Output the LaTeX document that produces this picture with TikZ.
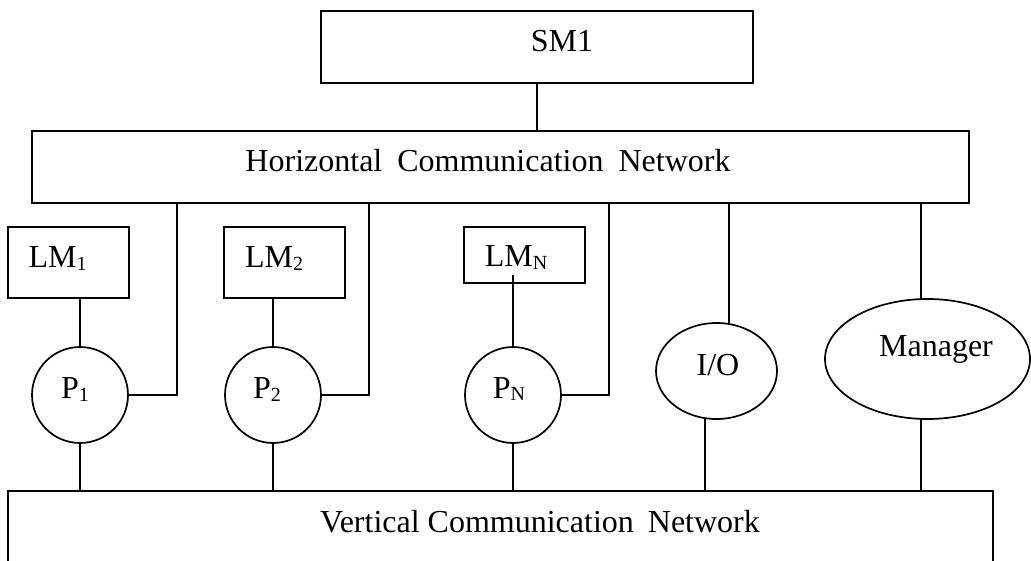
\documentclass[tikz,border=0pt]{standalone}
\usepackage{fontspec}
\setmainfont{Liberation Serif}
\usetikzlibrary{shapes.geometric,calc}
\newcommand\subtx[1]{\raisebox{-2.5pt}{\fontsize{20}{20}\selectfont #1}}
\begin{document}
\begin{tikzpicture}[x=1pt,y=-1pt,line width=1.7pt,
  box/.style={draw,rectangle,inner sep=0pt,outer sep=0pt},
  circ/.style={draw,circle,inner sep=0pt,outer sep=0pt,minimum size=96pt},
  ell/.style={draw,ellipse,inner sep=0pt,outer sep=0pt},
  txt/.style={anchor=base,inner sep=0pt,font=\fontsize{32}{38}\selectfont}]
\useasboundingbox (0,0) rectangle (1031,561);
% shapes
\node[box,minimum width=432pt,minimum height=72pt] (sm) at (537,47) {};
\node[box,minimum width=937pt,minimum height=72pt] (hcn) at (500.5,167) {};
\node[box,minimum width=121pt,minimum height=71pt] (lm1) at (68.5,262.5) {};
\node[box,minimum width=121pt,minimum height=71pt] (lm2) at (284.5,262.5) {};
\node[box,minimum width=121pt,minimum height=56pt] (lmn) at (524.5,255) {};
\node[circ] (p1) at (80,395) {};
\node[circ] (p2) at (273,395) {};
\node[circ] (pn) at (513,395) {};
\node[ell,minimum width=121pt,minimum height=96pt] (io) at (716.5,371) {};
\node[ell,minimum width=205pt,minimum height=120pt] (mgr) at (927.5,359) {};
\node[box,anchor=north west,minimum width=985pt,minimum height=200pt] (vcn) at (8,491) {};
% texts
\node[txt] (tsm) at (562,52) {SM1};
\node[txt] (thcn) at (488,172) {Horizontal\hspace{15pt}Communication\hspace{15pt}Network};
\node[txt] (tvcn) at (540,532) {Vertical Communication\hspace{14pt}Network};
\node[txt] (tlm1) at (57.5,268) {LM\subtx{1}};
\node[txt] (tlm2) at (274,268) {LM\subtx{2}};
\node[txt] (tlmn) at (516,267) {LM\subtx{N}};
\node[txt] (tp1) at (75,399) {P\subtx{1}};
\node[txt] (tp2) at (267,399) {P\subtx{2}};
\node[txt] (tpn) at (509,398) {P\subtx{N}};
\node[txt] (tio) at (718,375) {I/O};
\node[txt] (tmgr) at (936,356) {Manager};
% connection points
\coordinate (h1) at (177,203);
\coordinate (h2) at (369,203);
\coordinate (h3) at (609,203);
\coordinate (h4) at (729,203);
\coordinate (h5) at (921,203);
\coordinate (v4) at (705,491);
\coordinate (v5) at (921,491);
% connectors
\draw (sm.south) -- (sm.south |- hcn.north);
\draw (p1.north) -- (p1.north |- lm1.south);
\draw (p1.east) -| (h1);
\draw (p1.south) -- (p1.south |- vcn.north);
\draw (p2.north) -- (p2.north |- lm2.south);
\draw (p2.east) -| (h2);
\draw (p2.south) -- (p2.south |- vcn.north);
\draw (pn.north) -- ($(pn.north |- lmn.south)+(0,-8)$);
\draw (pn.east) -| (h3);
\draw (pn.south) -- (pn.south |- vcn.north);
\draw (h4) -- (h4 |- io.north);
\draw (v4 |- io.south) -- (v4);
\draw (h5) -- (h5 |- mgr.north);
\draw (v5 |- mgr.south) -- (v5);
\end{tikzpicture}
\end{document}
